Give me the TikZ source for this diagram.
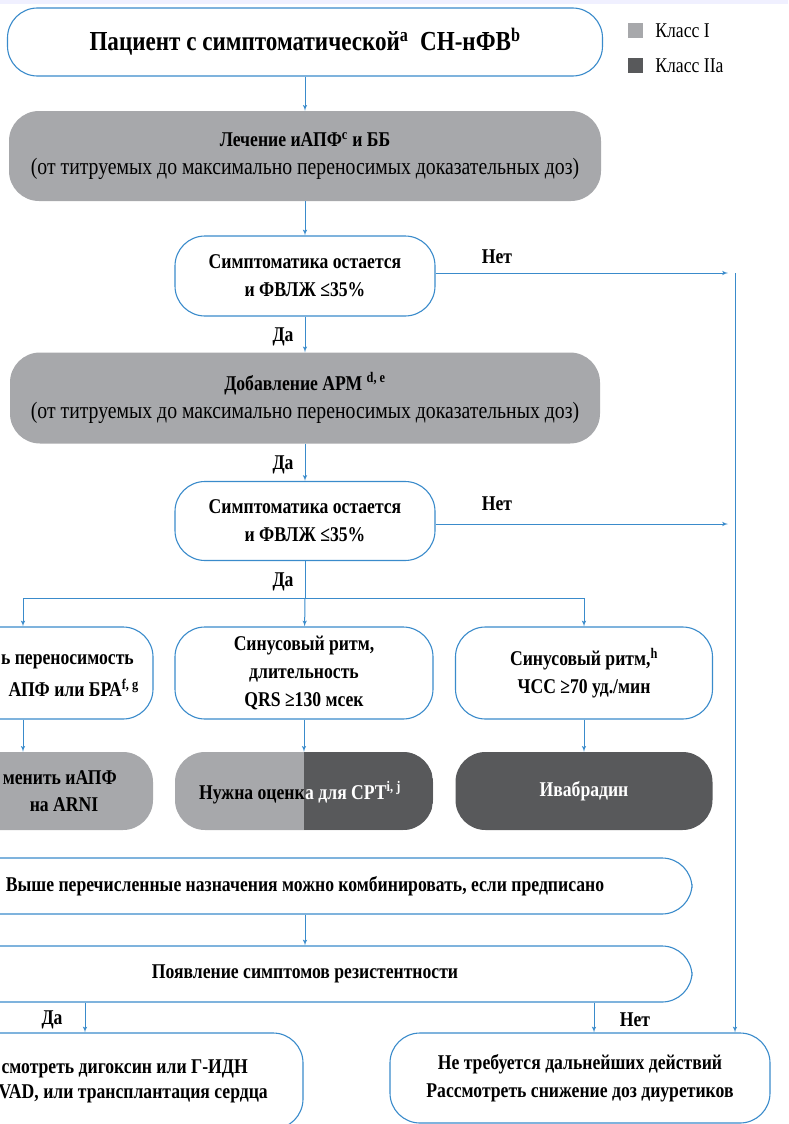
\documentclass[tikz,border=0pt]{standalone}
\usepackage{fontspec}
\setmainfont{Liberation Serif}[FakeStretch=0.84]
\usetikzlibrary{arrows}
\usetikzlibrary{positioning}
\definecolor{cblue}{HTML}{3A8BCB}
\definecolor{clight}{HTML}{A7A8AB}
\definecolor{cdark}{HTML}{58595B}
\newcommand{\txt}{\bfseries\fontsize{21}{28}\selectfont}
\newcommand{\dosetxt}{\mdseries\fontsize{23.5}{28}\selectfont}
\tikzset{box/.style = {rounded corners = 30pt, inner sep = 0, align = center, font = \txt}}
\tikzset{whitebox/.style = {box, draw = cblue, line width = 1.1pt, fill = white}}
\tikzset{graybox/.style = {box, fill = clight}}
\tikzset{darkbox/.style = {box, fill = cdark, text = white}}
\tikzset{arr/.style = {draw = cblue, line width = 1pt, -latex'}}
\tikzset{lbl/.style = {inner sep = 0, font = \txt}}

\begin{document}
\begin{tikzpicture}[x=1pt, y=-1pt]
      \useasboundingbox (0, 0) rectangle (788, 1124);
      \clip (0, 0) rectangle (788, 1124);
      \fill [blue!6] (0, 0) rectangle (788, 4);

      \node [whitebox, minimum width = 595pt, minimum height = 68pt, font = \bfseries\fontsize{27.5}{30}\selectfont] (patient) at (305, 42)
        {Пациент с симптоматической\textsuperscript{a}\ \ СН-нФВ\textsuperscript{b}};
      \node [fill = clight, minimum size = 15pt, inner sep = 0] (leg1) at (635.5, 31) {};
      \node [fill = cdark, minimum size = 15pt, inner sep = 0] (leg2) at (635.5, 66) {};
      \node [lbl, right = 12pt of leg1, font = \fontsize{21}{24}\selectfont] (cls1) {Класс I};
      \node [lbl, right = 12pt of leg2, font = \fontsize{21}{24}\selectfont] (cls2) {Класс IIa};

      \node [graybox, minimum width = 592pt, minimum height = 90pt] (acei) at (305, 156)
        {Лечение иАПФ\textsuperscript{c} и ББ\\ \dosetxt(от титруемых до максимально переносимых доказательных доз)};
      \node [whitebox, minimum width = 260pt, minimum height = 80pt] (sympt1) at (305, 276)
        {Симптоматика остается\\ и ФВЛЖ ≤35\%};
      \node [graybox, minimum width = 590pt, minimum height = 91pt] (mra) at (305, 398)
        {Добавление АРМ \textsuperscript{d, e}\\ \dosetxt(от титруемых до максимально переносимых доказательных доз)};
      \node [whitebox, minimum width = 260pt, minimum height = 79pt] (sympt2) at (305, 521)
        {Симптоматика остается\\ и ФВЛЖ ≤35\%};

      % row of three
      \node [whitebox, minimum width = 260pt, minimum height = 92pt] (toler) at (23, 673) {};
      \node [lbl, anchor = east] (toler1) at (134, 662) {ь переносимость};
      \node [lbl, anchor = east] (toler2) at (139, 688) {АПФ или БРА\textsuperscript{f, g}};
      \node [whitebox, minimum width = 258pt, minimum height = 92pt] (qrs) at (304, 673)
        {Синусовый ритм,\\ длительность\\ QRS ≥130 мсек};
      \node [whitebox, minimum width = 257pt, minimum height = 92pt] (hr) at (584, 673)
        {Синусовый ритм,\textsuperscript{h}\\ ЧСС ≥70 уд./мин};

      \node [graybox, minimum width = 260pt, minimum height = 78pt] (arni) at (23, 791) {};
      \node [lbl, anchor = east] (arni1) at (117, 778) {менить иАПФ};
      \node [lbl] (arni2) at (64, 805) {на ARNI};
      \node [graybox, minimum width = 258pt, minimum height = 78pt,
        path picture = {\fill [cdark, sharp corners] (path picture bounding box.north) rectangle (path picture bounding box.south east);}] (crt) at (304, 791) {};
      \node [lbl, anchor = base east] (crt1) at (305, 799) {Нужна оценк};
      \node [lbl, anchor = base west, text = white] (crt2) at (305, 799) {а для СРТ\textsuperscript{i, j}};
      \node [darkbox, minimum width = 257pt, minimum height = 78pt] (ivab) at (584, 791) {Ивабрадин};

      \node [whitebox, minimum width = 774pt, minimum height = 56pt] (combine) at (305, 886)
        {Выше перечисленные назначения можно комбинировать, если предписано};
      \node [whitebox, minimum width = 774pt, minimum height = 56pt] (resist) at (305, 974)
        {Появление симптомов резистентности};

      \node [whitebox, minimum width = 400pt, minimum height = 96pt] (digox) at (103, 1081) {};
      \node [lbl, anchor = east] (digox1) at (248, 1069) {смотреть дигоксин или Г-ИДН};
      \node [lbl, anchor = east] (digox2) at (268, 1094) {VAD, или трансплантация сердца};
      \node [whitebox, minimum width = 380pt, minimum height = 90pt] (nothing) at (580, 1078)
        {Не требуется дальнейших действий\\ Рассмотреть снижение доз диуретиков};

      \coordinate (split) at (305, 598);
      \coordinate (no1) at (728, 273);
      \coordinate (no2) at (728, 524);
      \coordinate (rtop) at (735, 273);

      \draw [arr] (patient) -- (acei);
      \draw [arr] (acei) -- (sympt1);
      \draw [arr] (sympt1) -- (mra);
      \draw [arr] (mra) -- (sympt2);
      \draw [arr, -] (sympt2) -- (split);
      \draw [arr, -] (split -| toler) -- (split -| hr);
      \draw [arr] (split -| toler) -- (toler);
      \draw [arr] (split) -- (qrs);
      \draw [arr] (split -| hr) -- (hr);
      \draw [arr] (toler) -- (arni);
      \draw [arr] (qrs) -- (crt);
      \draw [arr] (hr) -- (ivab);
      \draw [arr] (combine) -- (resist);
      \draw [arr] (resist.south -| 85, 0) -- (digox.north -| 85, 0);
      \draw [arr] (resist.south -| 594, 0) -- (nothing.north -| 594, 0);

      \draw [arr] (sympt1.east |- no1) -- (no1);
      \draw [arr] (sympt2.east |- no2) -- (no2);
      \draw [arr] (rtop) -- (nothing.north -| rtop);

      \node [lbl] (n1) at (497, 257) {Нет};
      \node [lbl] (n2) at (497, 504) {Нет};
      \node [lbl] (y1) at (283, 337) {Да};
      \node [lbl] (y2) at (283, 465) {Да};
      \node [lbl] (y3) at (283, 582) {Да};
      \node [lbl] (y4) at (52, 1020) {Да};
      \node [lbl] (n3) at (635, 1020) {Нет};
    \end{tikzpicture}
\end{document}
